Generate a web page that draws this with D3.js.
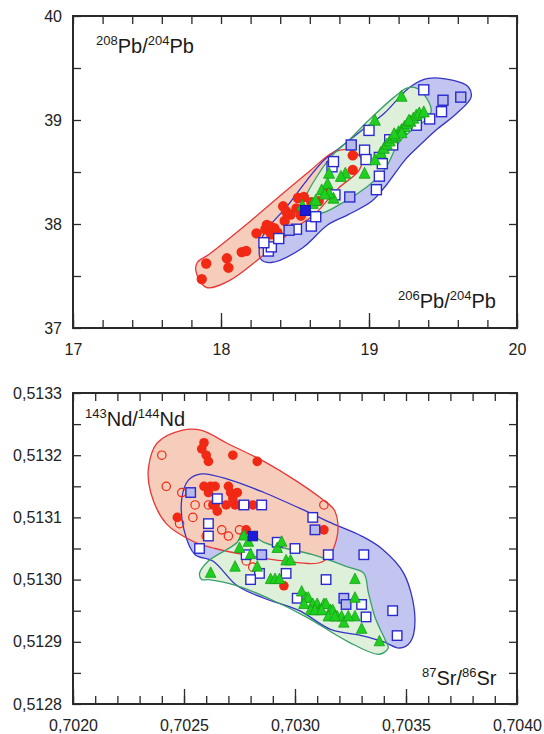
<!DOCTYPE html>
<html><head><meta charset="utf-8">
<script src="https://cdn.jsdelivr.net/npm/d3@7"></script>
<style>
html,body{margin:0;padding:0;background:#fff;}
svg{display:block;font-family:"Liberation Sans",Arial,sans-serif;}
</style></head>
<body>
<svg id="chart" width="544" height="734"></svg>
<script>
// ---------- Pb–Pb panel data ----------
const pbXTicks = [17, 18, 19, 20];
const pbYTicks = [37, 38, 39, 40];
const pbRedCircles = [[17.87,37.47],[17.90,37.62],[18.04,37.67],[18.05,37.58],[18.14,37.73],[18.17,37.74],[18.24,37.91],[18.30,37.95],[18.33,37.98],[18.36,37.96],[18.38,37.92],[18.34,37.90],[18.31,37.99],[18.42,38.17],[18.44,38.12],[18.47,38.09],[18.51,38.15],[18.52,38.25],[18.56,38.26],[18.61,38.21],[18.54,38.08],[18.66,38.22],[18.72,38.33],[18.89,38.66],[18.89,38.52],[18.43,38.03]];
const pbOpenSquares = [[18.32,37.74],[18.34,37.78],[18.29,37.82],[18.39,37.86],[18.51,37.95],[18.61,37.98],[18.64,38.07],[18.77,38.28],[18.75,38.55],[18.76,38.60],[18.97,38.71],[19.00,38.90],[18.98,38.62],[19.07,38.64],[19.09,38.58],[19.07,38.46],[19.05,38.33],[19.14,38.81],[19.16,38.76],[19.32,38.95],[19.41,39.01],[19.37,39.29],[19.49,39.08]];
const pbShadedSquares = [[18.46,37.94],[18.87,38.26],[18.88,38.76],[19.50,39.19],[19.62,39.22]];
const pbFilledSquare = [[18.57,38.13]];
const pbTriangles = [[19.22,39.22],[19.04,38.99],[19.04,38.61],[18.97,38.48],[18.84,38.48],[18.81,38.45],[18.73,38.48],[18.72,38.38],[18.68,38.32],[18.76,38.24],[18.73,38.29],[18.62,38.19],[18.64,38.22],[18.55,38.17],[18.70,38.28],[19.08,38.68],[19.10,38.72],[19.12,38.76],[19.14,38.79],[19.16,38.82],[19.18,38.84],[19.20,38.88],[19.22,38.90],[19.24,38.93],[19.26,38.96],[19.28,38.98],[19.30,39.01],[19.32,39.04],[19.34,39.06],[19.37,39.07],[19.27,38.99],[19.22,38.87],[19.17,38.86]];
const pbRedEnvelope = [[17.84,37.63],[17.83,37.55],[17.90,37.39],[18.05,37.45],[18.27,37.68],[18.51,37.97],[18.63,38.09],[18.79,38.34],[18.93,38.51],[18.95,38.62],[18.88,38.71],[18.76,38.69],[18.60,38.51],[18.39,38.26],[18.20,38.03],[17.92,37.71]];
const pbBlueEnvelope = [[18.27,37.66],[18.34,37.63],[18.55,37.77],[18.72,37.99],[18.86,38.09],[19.02,38.22],[19.12,38.38],[19.24,38.61],[19.33,38.74],[19.45,38.90],[19.59,39.06],[19.69,39.22],[19.67,39.32],[19.57,39.38],[19.40,39.40],[19.28,39.32],[19.10,39.06],[18.95,38.90],[18.81,38.74],[18.70,38.62],[18.58,38.42],[18.44,38.16],[18.30,37.93],[18.26,37.78]];
const pbGreenEnvelope = [[18.55,38.17],[18.58,38.29],[18.74,38.64],[18.86,38.80],[19.00,39.00],[19.17,39.22],[19.26,39.31],[19.33,39.30],[19.42,39.08],[19.21,38.80],[19.10,38.51],[18.98,38.35],[18.84,38.22],[18.66,38.10]];

// ---------- Sr–Nd panel data ----------
const srXTicks = [0.7020, 0.7025, 0.7030, 0.7035, 0.7040];
const srYTicks = [0.5128, 0.5129, 0.5130, 0.5131, 0.5132, 0.5133];
const srRedCircles = [[0.70258,0.51321],[0.70260,0.51320],[0.70261,0.51319],[0.70259,0.51322],[0.70272,0.51320],[0.70283,0.51319],[0.70259,0.51315],[0.70262,0.51315],[0.70264,0.51315],[0.70261,0.51314],[0.70263,0.51312],[0.70265,0.51311],[0.70270,0.51315],[0.70271,0.51314],[0.70272,0.51313],[0.70273,0.51312],[0.70274,0.51314],[0.70275,0.51312],[0.70269,0.51312],[0.70281,0.51312],[0.70247,0.51310],[0.70313,0.51308],[0.70278,0.51308],[0.70295,0.51299],[0.70264,0.51312]];
const srOpenCircles = [[0.70240,0.51320],[0.70242,0.51315],[0.70249,0.51314],[0.70255,0.51312],[0.70254,0.51310],[0.70248,0.51309],[0.70260,0.51307],[0.70267,0.51308],[0.70270,0.51307],[0.70275,0.51308],[0.70281,0.51302],[0.70313,0.51312],[0.70261,0.51312],[0.70278,0.51303]];
const srOpenSquares = [[0.70265,0.51313],[0.70277,0.51312],[0.70285,0.51312],[0.70261,0.51309],[0.70261,0.51307],[0.70257,0.51305],[0.70278,0.51304],[0.70292,0.51306],[0.70300,0.51305],[0.70284,0.51301],[0.70280,0.51300],[0.70296,0.51301],[0.70308,0.51310],[0.70315,0.51304],[0.70331,0.51304],[0.70314,0.51300],[0.70301,0.51297],[0.70330,0.51296],[0.70332,0.51294],[0.70344,0.51295],[0.70346,0.51291]];
const srShadedSquares = [[0.70253,0.51314],[0.70285,0.51304],[0.70309,0.51308],[0.70322,0.51297],[0.70323,0.51296]];
const srFilledSquare = [[0.70281,0.51307]];
const srTriangles = [[0.70262,0.51301],[0.70273,0.51302],[0.70275,0.51305],[0.70279,0.51306],[0.70277,0.51307],[0.70280,0.51304],[0.70283,0.51302],[0.70289,0.51300],[0.70292,0.51305],[0.70294,0.51306],[0.70296,0.51303],[0.70298,0.51303],[0.70291,0.51300],[0.70293,0.51300],[0.70303,0.51298],[0.70305,0.51297],[0.70306,0.51297],[0.70308,0.51296],[0.70310,0.51296],[0.70311,0.51295],[0.70313,0.51296],[0.70314,0.51296],[0.70316,0.51295],[0.70317,0.51295],[0.70319,0.51294],[0.70321,0.51294],[0.70304,0.51296],[0.70307,0.51295],[0.70309,0.51295],[0.70312,0.51295],[0.70315,0.51294],[0.70318,0.51294],[0.70322,0.51293],[0.70327,0.51300],[0.70327,0.51297],[0.70327,0.51294],[0.70330,0.51292],[0.70338,0.51290],[0.70324,0.51294]];
const srRedEnvelope = [[0.70249,0.51324],[0.70238,0.51322],[0.70234,0.51318],[0.70235,0.51314],[0.70242,0.51309],[0.70255,0.51306],[0.70264,0.51305],[0.70277,0.51304],[0.70295,0.51303],[0.70313,0.51303],[0.70319,0.51307],[0.70318,0.51311],[0.70312,0.51313],[0.70300,0.51316],[0.70286,0.51319],[0.70269,0.51322],[0.70258,0.51324]];
const srBlueEnvelope = [[0.70252,0.51316],[0.70249,0.51313],[0.70250,0.51308],[0.70255,0.51304],[0.70263,0.51303],[0.70274,0.51299],[0.70286,0.51297],[0.70302,0.51295],[0.70316,0.51292],[0.70330,0.51291],[0.70340,0.51290],[0.70347,0.51289],[0.70352,0.51290],[0.70354,0.51294],[0.70349,0.51301],[0.70339,0.51305],[0.70330,0.51307],[0.70317,0.51309],[0.70305,0.51311],[0.70286,0.51314],[0.70271,0.51316],[0.70258,0.51317]];
const srGreenEnvelope = [[0.70258,0.51300],[0.70257,0.51301],[0.70261,0.51303],[0.70274,0.51306],[0.70277,0.51308],[0.70286,0.51306],[0.70308,0.51304],[0.70324,0.51302],[0.70331,0.51301],[0.70333,0.51298],[0.70336,0.51294],[0.70341,0.51290],[0.70342,0.51289],[0.70338,0.51288],[0.70324,0.51290],[0.70305,0.51294],[0.70288,0.51297],[0.70274,0.51299],[0.70261,0.51300]];

// ---------- styles ----------
const C = {
  redFill:"#f6ccba", redStroke:"#e8383a",
  blueFill:"#c2c5ef", blueStroke:"#3434c4",
  greenFill:"#dff0da", greenStroke:"#3a9e6a",
  marker:"#f02814", tri:"#1fcf1f", triStroke:"#16a016",
  sq:"#2a2ad0", sqShade:"#b6b9ea", frame:"#2a2a2a"
};

const svg = d3.select("#chart");

function panel(cfg){
  const g = svg.append("g");
  const x = d3.scaleLinear().domain(cfg.xDomain).range([cfg.left, cfg.right]);
  const y = d3.scaleLinear().domain(cfg.yDomain).range([cfg.bottom, cfg.top]);
  const line = d3.line().x(d=>x(d[0])).y(d=>y(d[1])).curve(d3.curveCatmullRomClosed.alpha(0.5));

  // envelopes: fills then strokes
  const envs = [[cfg.blueEnv, C.blueFill, C.blueStroke],[cfg.redEnv, C.redFill, C.redStroke],[cfg.greenEnv, C.greenFill, C.greenStroke]];
  envs.forEach(e=> g.append("path").attr("d", line(e[0])).attr("fill", e[1]).attr("stroke","none"));
  envs.forEach(e=> g.append("path").attr("d", line(e[0])).attr("fill","none").attr("stroke", e[2]).attr("stroke-width",1.3));

  // red filled circles
  g.selectAll(null).data(cfg.redCircles).join("circle")
    .attr("cx",d=>x(d[0])).attr("cy",d=>y(d[1])).attr("r",cfg.rc).attr("fill",C.marker);
  // red open circles
  if(cfg.openCircles) g.selectAll(null).data(cfg.openCircles).join("circle")
    .attr("cx",d=>x(d[0])).attr("cy",d=>y(d[1])).attr("r",cfg.ro).attr("fill","none").attr("stroke",C.marker).attr("stroke-width",1.2);
  const s = cfg.sq;
  const sqr = (data, fill)=> g.selectAll(null).data(data).join("rect")
    .attr("x",d=>x(d[0])-s/2).attr("y",d=>y(d[1])-s/2).attr("width",s).attr("height",s)
    .attr("fill",fill).attr("stroke",C.sq).attr("stroke-width",1.4);
  sqr(cfg.openSquares, "#ffffff");
  sqr(cfg.shadedSquares, C.sqShade);
  // triangles
  const t = cfg.tri;
  g.selectAll(null).data(cfg.triangles).join("path")
    .attr("d", d=>{const cx=x(d[0]), cy=y(d[1]); return `M${cx},${cy-t*0.62}L${cx+t/2},${cy+t*0.38}L${cx-t/2},${cy+t*0.38}Z`;})
    .attr("fill",C.tri).attr("stroke",C.triStroke).attr("stroke-width",0.8);
  g.selectAll(null).data(cfg.filledSquare).join("rect")
    .attr("x",d=>x(d[0])-s/2).attr("y",d=>y(d[1])-s/2).attr("width",s).attr("height",s)
    .attr("fill","#1c1cd8").attr("stroke","#1414b0").attr("stroke-width",1);

  // axes (inward ticks)
  const ax = g.append("g").attr("class","axes");
  const minorX = d3.range(cfg.xMinor[0], cfg.xMinor[1]+cfg.xMinor[2]/2, cfg.xMinor[2]);
  const minorY = d3.range(cfg.yMinor[0], cfg.yMinor[1]+cfg.yMinor[2]/2, cfg.yMinor[2]);
  const style = sel => { sel.select(".domain").remove(); sel.selectAll("line").attr("stroke",C.frame).attr("stroke-width",1.3);
    sel.selectAll("text").attr("fill","#222").style("font-size","16px").style("font-family","Liberation Sans, Arial, sans-serif"); };
  ax.append("g").attr("transform",`translate(0,${cfg.bottom})`)
    .call(d3.axisBottom(x).tickValues(minorX).tickSize(-8).tickFormat("")).call(style);
  ax.append("g").attr("transform",`translate(0,${cfg.bottom})`)
    .call(d3.axisBottom(x).tickValues(cfg.xTicks).tickSizeInner(-15).tickSizeOuter(0).tickPadding(16).tickFormat(cfg.fmtX)).call(style);
  ax.append("g").attr("transform",`translate(0,${cfg.top})`)
    .call(d3.axisTop(x).tickValues(minorX).tickSize(-8).tickFormat("")).call(style);
  ax.append("g").attr("transform",`translate(${cfg.left},0)`)
    .call(d3.axisLeft(y).tickValues(minorY).tickSize(-8).tickFormat("")).call(style);
  ax.append("g").attr("transform",`translate(${cfg.left},0)`)
    .call(d3.axisLeft(y).tickValues(cfg.yTicks).tickSize(0).tickPadding(11).tickFormat(cfg.fmtY)).call(style);
  ax.append("g").attr("transform",`translate(${cfg.right},0)`)
    .call(d3.axisRight(y).tickValues(minorY).tickSize(-8).tickFormat("")).call(style);
  // frame
  g.append("rect").attr("x",cfg.left).attr("y",cfg.top).attr("width",cfg.right-cfg.left).attr("height",cfg.bottom-cfg.top)
    .attr("fill","none").attr("stroke",C.frame).attr("stroke-width",2);

  // axis titles with superscripts (py = baseline of the main text)
  const title = (parts, px, py) => {
    const tx = g.append("text").attr("x",px).attr("y",py).attr("fill","#1a1a1a").style("font-size","20px");
    parts.forEach(p=>{
      if(p.sup){ tx.append("tspan").text(p.t).style("font-size","13px").attr("dy",-8); }
      else { tx.append("tspan").text(p.t).attr("dy",8); }
    });
  };
  title(cfg.yTitle, cfg.yTitlePos[0], cfg.yTitlePos[1]);
  title(cfg.xTitle, cfg.xTitlePos[0], cfg.xTitlePos[1]);
}

const comma = d => d3.format(".4f")(d).replace(".", ",");

panel({
  left:73, right:517, top:16, bottom:328,
  xDomain:[17,20], yDomain:[37,40],
  xTicks:pbXTicks, yTicks:pbYTicks,
  xMinor:[17,20,0.2], yMinor:[37,40,0.5],
  fmtX:d3.format("d"), fmtY:d3.format("d"),
  redCircles:pbRedCircles, openCircles:null,
  openSquares:pbOpenSquares, shadedSquares:pbShadedSquares, filledSquare:pbFilledSquare,
  triangles:pbTriangles,
  redEnv:pbRedEnvelope, blueEnv:pbBlueEnvelope, greenEnv:pbGreenEnvelope,
  rc:5.2, ro:4.3, sq:10, tri:11,
  yTitle:[{t:"208",sup:true},{t:"Pb/"},{t:"204",sup:true},{t:"Pb"}], yTitlePos:[96,53],
  xTitle:[{t:"206",sup:true},{t:"Pb/"},{t:"204",sup:true},{t:"Pb"}], xTitlePos:[398,308]
});

panel({
  left:73, right:517, top:393, bottom:704,
  xDomain:[0.7020,0.7040], yDomain:[0.5128,0.5133],
  xTicks:srXTicks, yTicks:srYTicks,
  xMinor:[0.7020,0.7040,0.0001], yMinor:[0.5128,0.5133,0.00005],
  fmtX:comma, fmtY:comma,
  redCircles:srRedCircles, openCircles:srOpenCircles,
  openSquares:srOpenSquares, shadedSquares:srShadedSquares, filledSquare:srFilledSquare,
  triangles:srTriangles,
  redEnv:srRedEnvelope, blueEnv:srBlueEnvelope, greenEnv:srGreenEnvelope,
  rc:4.8, ro:4.2, sq:9.5, tri:10.5,
  yTitle:[{t:"143",sup:true},{t:"Nd/"},{t:"144",sup:true},{t:"Nd"}], yTitlePos:[85,426],
  xTitle:[{t:"87",sup:true},{t:"Sr/"},{t:"86",sup:true},{t:"Sr"}], xTitlePos:[422,685]
});
</script>
</body></html>
